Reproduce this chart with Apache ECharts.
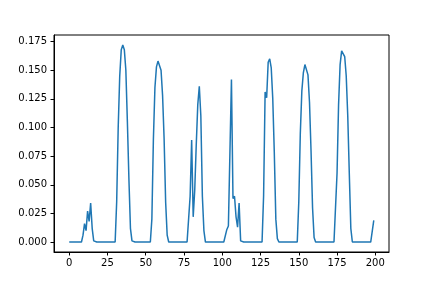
<!DOCTYPE html>
<html>
<head>
<meta charset="utf-8">
<script src="https://cdn.jsdelivr.net/npm/echarts@6/dist/echarts.min.js"></script>
<style>
html,body{margin:0;padding:0;background:#fff;}
#chart{width:432px;height:288px;}
</style>
</head>
<body>
<div id="chart"></div>
<script>
// series values (x = 0..199)
const values = [
  0,0,0,0,0,0,0,0,0,0.006,
  0.016,0.010,0.027,0.018,0.034,0.012,0.001,0,0,0,
  0,0,0,0,0,0,0,0,0,0,
  0,0.035,0.10,0.145,0.168,0.172,0.168,0.150,0.105,0.055,
  0.012,0.001,0,0,0,0,0,0,0,0,
  0,0,0,0,0.02,0.09,0.135,0.153,0.158,0.157,
  0.150,0.128,0.09,0.035,0.006,0,0,0,0,0,
  0,0,0,0,0,0,0,0,0,0.04,
  0.089,0.022,0.045,0.085,0.12,0.136,0.11,0.04,0.01,0,
  0,0,0,0,0,0,0,0,0,0,
  0,0,0.001,0.011,0.014,0.014,0.142,0.038,0.04,0.022,
  0.013,0.034,0.001,0,0,0,0,0,0,0,
  0,0,0,0,0,0,0,0.04,0.131,0.126,
  0.157,0.160,0.152,0.125,0.078,0.02,0.003,0,0,0,
  0,0,0,0,0,0,0,0,0,0,
  0.035,0.095,0.132,0.148,0.155,0.154,0.146,0.122,0.08,0.03,
  0.004,0,0,0,0,0,0,0,0,0,
  0,0,0,0,0,0.06,0.12,0.155,0.167,0.168,
  0.162,0.145,0.11,0.06,0.012,0,0,0,0,0,
  0,0,0,0,0,0,0,0,0,0.019
];
const xTicks = [0, 25, 50, 75, 100, 125, 150, 175, 200];
const yTicks = [0, 0.025, 0.05, 0.075, 0.1, 0.125, 0.15, 0.175];

const points = values.map((v, i) => [i, v]);

const chart = echarts.init(document.getElementById('chart'), null, {renderer: 'canvas'});
const labelStyle = {fontFamily: 'DejaVu Sans', fontSize: 10, color: '#000'};
chart.setOption({
  animation: false,
  backgroundColor: '#fff',
  grid: {
    left: 54, right: 43, top: 35, bottom: 36,
    show: true, borderColor: '#000', borderWidth: 1,
    outerBoundsMode: 'none'
  },
  xAxis: {
    type: 'value',
    min: -9.95, max: 208.95,
    splitLine: {show: false},
    axisLine: {show: true, onZero: false, lineStyle: {color: '#000', width: 1}},
    axisTick: {show: true, inside: false, length: 3.5, customValues: xTicks, lineStyle: {color: '#000'}},
    axisLabel: Object.assign({margin: 6, customValues: xTicks, formatter: v => String(Math.round(v))}, labelStyle)
  },
  yAxis: {
    type: 'value',
    min: -0.0087, max: 0.1808,
    splitLine: {show: false},
    axisLine: {show: true, onZero: false, lineStyle: {color: '#000', width: 1}},
    axisTick: {show: true, inside: false, length: 3.5, customValues: yTicks, lineStyle: {color: '#000'}},
    axisLabel: Object.assign({margin: 7, customValues: yTicks, formatter: v => v.toFixed(3)}, labelStyle)
  },
  series: [{
    type: 'line',
    data: points,
    showSymbol: false,
    symbol: 'none',
    lineStyle: {color: '#1f77b4', width: 1.5},
    itemStyle: {color: '#1f77b4'}
  }]
});
</script>
</body>
</html>
